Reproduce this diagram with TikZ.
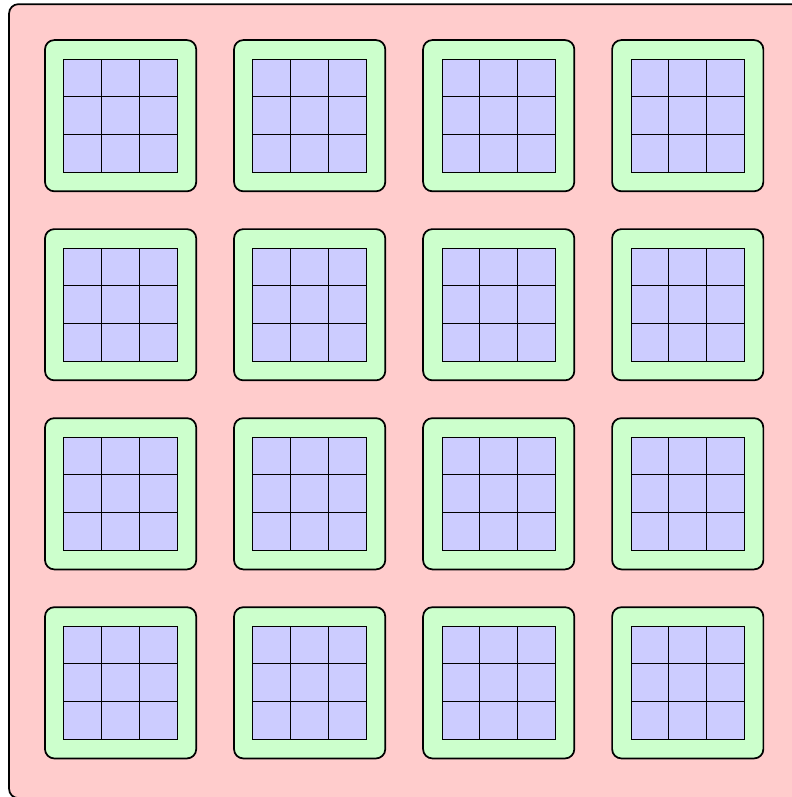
\documentclass[tikz,border=0pt]{standalone}
\usetikzlibrary{positioning,calc}
\definecolor{rose}{RGB}{255,204,204}
\definecolor{mint}{RGB}{204,255,204}
\definecolor{lilac}{RGB}{204,204,255}
\tikzset{
  board/.style={draw=black,fill=rose,rounded corners=7pt,line width=1.3pt},
  tilebox/.style={draw=black,fill=mint,rounded corners=7pt,line width=1.3pt,
    minimum size=4cm,inner sep=0pt},
  cellbox/.style={draw=black,fill=lilac,line width=0.7pt,minimum size=1cm,inner sep=0pt},
}
\begin{document}
\begin{tikzpicture}
    \useasboundingbox (-0.24,0.11) rectangle (20.69,-20.97);
    \node[board,minimum size=21cm,inner sep=0pt] (chip) at (10.5,-10.5) {};
    \foreach \r in {0,1,2,3} {
      \foreach \c in {0,1,2,3} {
        \node[tilebox] (t\r\c) at (2.95+5*\c,-2.95-5*\r) {};
        \foreach \i in {-1,0,1} {
          \foreach \j in {-1,0,1} {
            \node[cellbox] (t\r\c-\i\j) at ($(t\r\c.center)+(\i,\j)$) {};
          }
        }
      }
    }
  \end{tikzpicture}
\end{document}
